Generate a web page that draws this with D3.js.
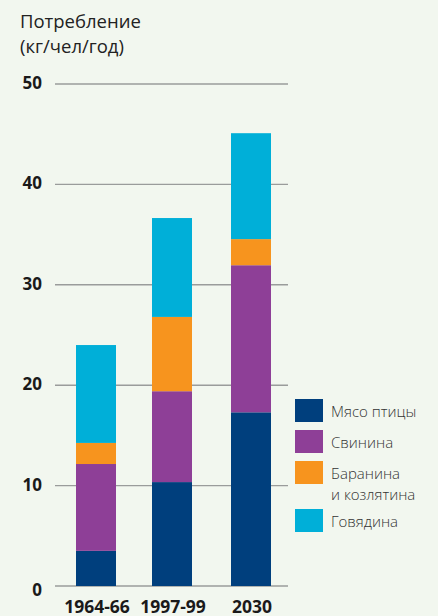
<!DOCTYPE html>
<html lang="ru">
<head>
<meta charset="UTF-8">
<title>Потребление мяса</title>
<script src="https://cdn.jsdelivr.net/npm/d3@7"></script>
<style>
  html, body { margin: 0; padding: 0; background: #f2f7ef; }
  svg { display: block; font-family: "Open Sans", "Noto Sans", sans-serif; }
</style>
</head>
<body>
<div id="chart"></div>
<script>
// данные
var periods = ["1964-66", "1997-99", "2030"];
var meats = ["Мясо птицы", "Свинина", "Баранина и козлятина", "Говядина"];
var poultry = [3.5, 10.35, 17.3];
var pork = [8.65, 9.05, 14.65];
var mutton = [2.1, 7.4, 2.6];
var beef = [9.75, 9.85, 10.55];
var yTicks = [0, 10, 20, 30, 40, 50];
var colors = ["#003f7d", "#8e3f97", "#f7941e", "#00afd8"];

var width = 438, height = 616;
var series = [poultry, pork, mutton, beef];
var rows = periods.map(function (p, i) {
  var r = { period: p };
  meats.forEach(function (m, k) { r[m] = series[k][i]; });
  return r;
});

var svg = d3.select("#chart").append("svg")
  .attr("width", width).attr("height", height);

svg.append("rect").attr("width", width).attr("height", height).attr("fill", "#f2f7ef");

// центры столбцов стоят не совсем равномерно
var x = d3.scaleOrdinal().domain(periods).range([96, 172, 251]);
var y = d3.scaleLinear().domain([0, 50]).range([586, 84]);
var barW = 40;

// сетка
svg.append("g").selectAll("line").data(yTicks).enter().append("line")
  .attr("x1", 55).attr("x2", 288)
  .attr("y1", function (d) { return y(d); })
  .attr("y2", function (d) { return y(d); })
  .attr("stroke", "#9a9c9b").attr("stroke-width", 1.4);

// подписи оси Y
svg.append("g").selectAll("text").data(yTicks).enter().append("text")
  .attr("x", 42).attr("y", function (d) { return y(d) + (d === 0 ? 10 : 5); })
  .attr("text-anchor", "end")
  .attr("font-size", 17).attr("font-weight", "bold").attr("fill", "#1a1a1a")
  .text(function (d) { return d; });

// столбцы
var stack = d3.stack().keys(meats)(rows);
svg.append("g").selectAll("g").data(stack).enter().append("g")
  .attr("fill", function (d, i) { return colors[i]; })
  .selectAll("rect").data(function (d) { return d; }).enter().append("rect")
  .attr("x", function (d) { return x(d.data.period) - barW / 2; })
  .attr("width", barW)
  .attr("y", function (d) { return y(d[1]); })
  .attr("height", function (d) { return y(d[0]) - y(d[1]); });

// подписи оси X
svg.append("g").selectAll("text").data(periods).enter().append("text")
  .attr("x", function (d) { return x(d) + 1; }).attr("y", 613)
  .attr("text-anchor", "middle")
  .attr("font-size", 17.5).attr("font-weight", "bold").attr("fill", "#1a1a1a")
  .text(function (d) { return d; });

// заголовок
var title = svg.append("text").attr("x", 20).attr("y", 28)
  .attr("font-size", 18.5).attr("fill", "#222");
title.append("tspan").attr("x", 20).text("Потребление");
title.append("tspan").attr("x", 20).attr("dy", 25).text("(кг/чел/год)");

// легенда
var legendY = [399, 430, 461, 509];
var legend = svg.append("g").selectAll("g").data(meats).enter().append("g")
  .attr("transform", function (d, i) { return "translate(295," + legendY[i] + ")"; });
legend.append("rect").attr("width", 28).attr("height", 23)
  .attr("fill", function (d, i) { return colors[i]; });
legend.append("text").attr("x", 36).attr("y", 18)
  .attr("font-size", 15).attr("font-weight", 300).attr("fill", "#333")
  .each(function (d) {
    var t = d3.select(this);
    if (d === "Баранина и козлятина") {
      t.append("tspan").attr("x", 36).text("Баранина");
      t.append("tspan").attr("x", 36).attr("dy", 21).text("и козлятина");
    } else {
      t.text(d);
    }
  });
</script>
</body>
</html>
